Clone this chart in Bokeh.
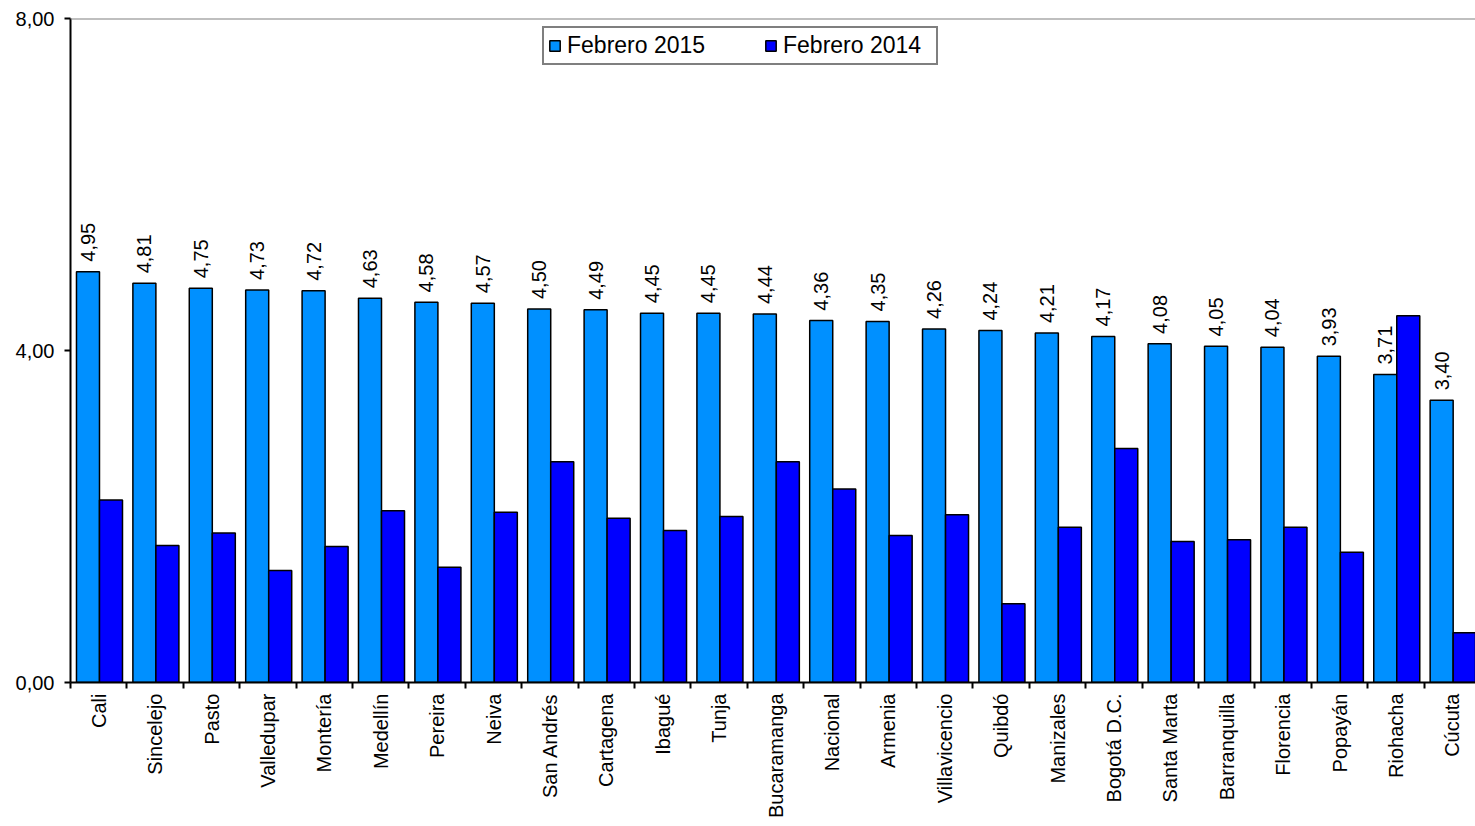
import math
from bokeh.plotting import figure
from bokeh.models import (ColumnDataSource, FixedTicker, CustomJSTickFormatter, Range1d,
                          Legend, LegendItem, Span)
from bokeh.core.properties import value
from bokeh.embed import file_html
from bokeh.resources import INLINE

cities = ["Cali", "Sincelejo", "Pasto", "Valledupar", "Montería", "Medellín", "Pereira",
          "Neiva", "San Andrés", "Cartagena", "Ibagué", "Tunja", "Bucaramanga", "Nacional",
          "Armenia", "Villavicencio", "Quibdó", "Manizales", "Bogotá D.C.", "Santa Marta",
          "Barranquilla", "Florencia", "Popayán", "Riohacha", "Cúcuta"]
feb2015 = [4.95, 4.81, 4.75, 4.73, 4.72, 4.63, 4.58, 4.57, 4.50, 4.49, 4.45, 4.45, 4.44,
           4.36, 4.35, 4.26, 4.24, 4.21, 4.17, 4.08, 4.05, 4.04, 3.93, 3.71, 3.40]
feb2014 = [2.20, 1.65, 1.80, 1.35, 1.64, 2.07, 1.39, 2.05, 2.66, 1.98, 1.83, 2.00, 2.66,
           2.33, 1.77, 2.02, 0.95, 1.87, 2.82, 1.70, 1.72, 1.87, 1.57, 4.42, 0.60]
y_ticks = [0, 4, 8]
y_tick_labels = ["0,00", "4,00", "8,00"]

FONT = "Liberation Sans"
C2015 = "#0090FF"
C2014 = "#0000FF"

idx = list(range(len(cities)))
src = ColumnDataSource(dict(
    xa=[i + 0.31 for i in idx],
    xb=[i + 0.718 for i in idx],
    v15=feb2015,
    v14=feb2014,
    ylab=[v + 0.12 for v in feb2015],
    lab=[f"{v:.2f}".replace(".", ",") for v in feb2015],
))

p = figure(width=1475, height=826, output_backend="svg", toolbar_location=None,
           x_range=Range1d(0, 24.91), y_range=Range1d(0, 8),
           min_border_left=70, min_border_right=0, min_border_top=18, min_border_bottom=144)
p.outline_line_color = None
p.grid.visible = False
p.background_fill_color = "white"

r15 = p.vbar(x="xa", top="v15", width=0.408, bottom=0, source=src,
             fill_color=C2015, line_color="black", line_width=1.5)
r14 = p.vbar(x="xb", top="v14", width=0.408, bottom=0, source=src,
             fill_color=C2014, line_color="black", line_width=1.5)

p.text(x="xa", y="ylab", text="lab", source=src, angle=math.pi / 2,
       text_align="left", text_baseline="middle", text_font=value(FONT),
       text_font_size="20px", text_color="black")

p.add_layout(Span(location=8, dimension="width", line_color="#808080", line_width=2))

# x axis
xa = p.xaxis[0]
xa.ticker = FixedTicker(ticks=[i + 0.5 for i in idx], minor_ticks=list(range(len(cities) + 1)))
xa.formatter = CustomJSTickFormatter(args=dict(names=cities),
                                     code="return names[Math.floor(tick)] || '';")
xa.major_label_orientation = math.pi / 2
xa.major_tick_out = 0
xa.major_tick_in = 0
xa.minor_tick_out = 6
xa.minor_tick_in = 0
xa.minor_tick_line_color = "black"
xa.minor_tick_line_width = 2
xa.axis_line_color = "black"
xa.axis_line_width = 2
xa.major_label_text_font = FONT
xa.major_label_text_font_size = "20px"
xa.major_label_text_color = "black"
xa.major_label_standoff = 5

# y axis
ya = p.yaxis[0]
ya.ticker = FixedTicker(ticks=y_ticks, minor_ticks=[])
ya.major_label_overrides = {t: l for t, l in zip(y_ticks, y_tick_labels)}
ya.major_tick_out = 6
ya.major_tick_in = 0
ya.major_tick_line_width = 2
ya.major_tick_line_color = "black"
ya.axis_line_color = "black"
ya.axis_line_width = 2
ya.major_label_text_font = FONT
ya.major_label_text_font_size = "20px"
ya.major_label_text_color = "black"
ya.major_label_standoff = 10

legend = Legend(items=[LegendItem(label="Febrero 2015", renderers=[r15]),
                       LegendItem(label="Febrero 2014", renderers=[r14])],
                orientation="horizontal", location=(472, 617),
                border_line_color="black", border_line_width=2,
                padding=4, margin=0, spacing=48, label_standoff=6,
                glyph_width=13, glyph_height=13, label_width=149,
                label_text_font=FONT, label_text_font_size="23px",
                label_text_color="black", background_fill_alpha=1)
p.add_layout(legend, "center")

open("out.html", "w").write(file_html(p, INLINE))
